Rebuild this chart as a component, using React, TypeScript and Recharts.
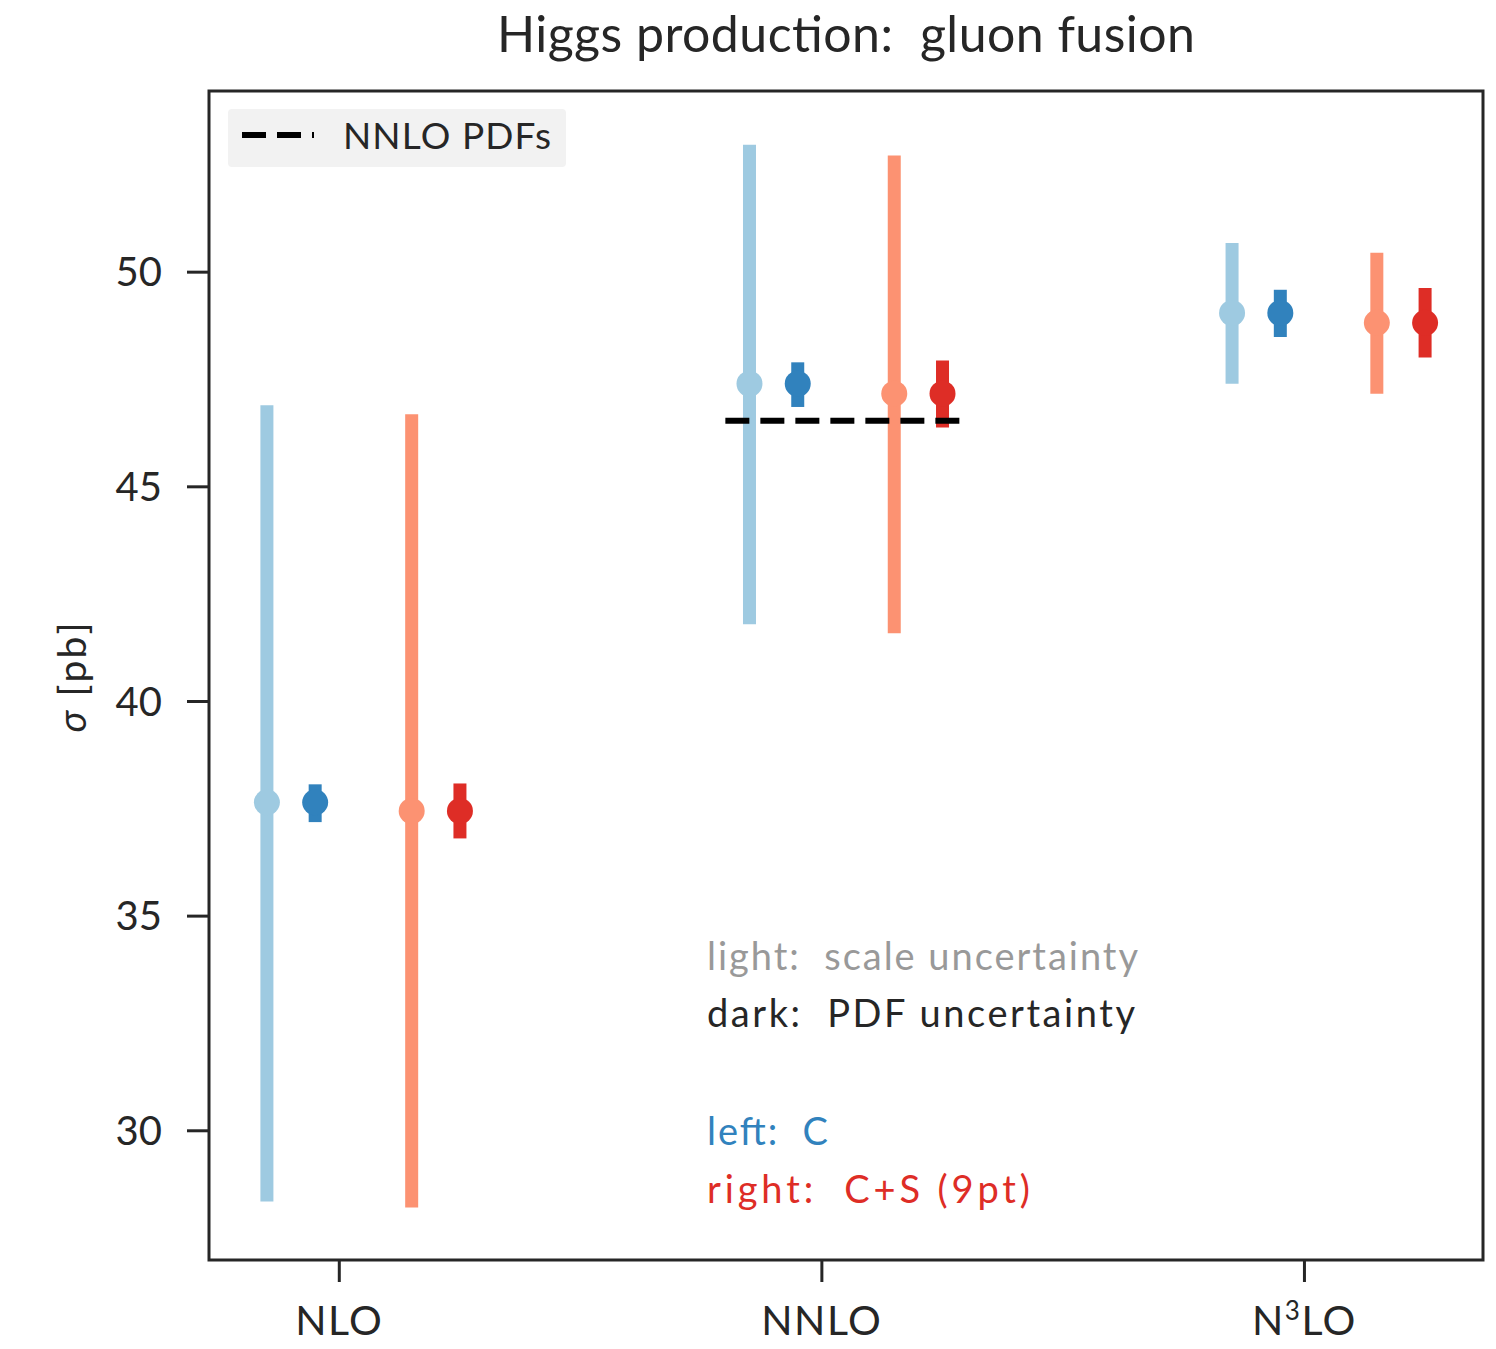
import React from 'react';
import { ComposedChart, Scatter, ErrorBar, XAxis, YAxis, ReferenceLine, ReferenceArea } from 'recharts';

// categories
const orders = ['NLO', 'NNLO', 'N³LO'];
const orderIndex = [0, 1, 2];
const yTicks = [30, 35, 40, 45, 50];

// central values [pb]
const centralC = [37.65, 47.4, 49.05];
const centralCS = [37.45, 47.17, 48.82];

// scale uncertainty (light)
const scaleLowC = [28.35, 41.8, 47.4];
const scaleHighC = [46.9, 52.97, 50.68];
const scaleLowCS = [28.21, 41.59, 47.17];
const scaleHighCS = [46.69, 52.72, 50.45];

// PDF uncertainty (dark)
const pdfLowC = [37.19, 46.86, 48.49];
const pdfHighC = [38.07, 47.9, 49.59];
const pdfLowCS = [36.81, 46.38, 48.01];
const pdfHighCS = [38.09, 47.94, 49.63];

// NNLO PDFs reference value
const nnloPdfValue = 46.54;

const W = 1496;
const H = 1349;
const FONT = 'Lato, "DejaVu Sans", sans-serif';
const INK = '#262626';
const NB = '\u00a0';

const xDomain = [-0.27, 2.37];
const yDomain = [26.99, 54.22];

const makeRows = (offset: number, central: number[], low: number[], high: number[]) =>
  orderIndex.map((o, i) => ({
    x: o + offset,
    y: central[i],
    err: [central[i] - low[i], high[i] - central[i]],
  }));

const series = [
  { key: 'scaleC', rows: makeRows(-0.15, centralC, scaleLowC, scaleHighC), color: '#9ecae1' },
  { key: 'pdfC', rows: makeRows(-0.05, centralC, pdfLowC, pdfHighC), color: '#3182bd' },
  { key: 'scaleCS', rows: makeRows(0.15, centralCS, scaleLowCS, scaleHighCS), color: '#fc9272' },
  { key: 'pdfCS', rows: makeRows(0.25, centralCS, pdfLowCS, pdfHighCS), color: '#de2d26' },
];

const OrderTick = (props: any) => {
  const { x, y, payload } = props;
  const label = orders[payload.value] ?? '';
  const parts = label.split('³');
  return (
    <text x={x} y={y} dy="0.74em" textAnchor="middle" fill={INK} fontSize={41} fontFamily={FONT} letterSpacing={1.5}>
      {parts.length > 1 ? (
        <>
          {parts[0]}
          <tspan dy={-15} fontSize={26}>3</tspan>
          <tspan dy={15}>{parts[1]}</tspan>
        </>
      ) : (
        label
      )}
    </text>
  );
};

const YLabel = (props: any) => {
  const vb = props.viewBox || { x: 0, y: 0, width: 0, height: 0 };
  const cx = vb.x + 71;
  const cy = vb.y + vb.height / 2 + 2;
  return (
    <text
      x={cx}
      y={cy}
      transform={`rotate(-90 ${cx} ${cy})`}
      textAnchor="middle"
      dominantBaseline="central"
      fill={INK}
      fontSize={39}
      fontFamily={FONT}
      textLength={110}
      lengthAdjust="spacing"
    >
      <tspan fontStyle="italic">σ</tspan>{NB}[pb]
    </text>
  );
};

export default function App() {
  return (
    <div style={{ position: 'absolute', left: 0, top: 0, width: W, height: H, background: '#fff' }}>
      <ComposedChart width={W} height={H} margin={{ top: 91, right: 13, bottom: 0, left: 0 }}>
        <XAxis
          dataKey="x"
          type="number"
          domain={xDomain}
          allowDataOverflow
          ticks={orderIndex}
          tick={<OrderTick />}
          tickSize={22}
          tickMargin={23}
          tickLine={{ stroke: INK, strokeWidth: 3 }}
          axisLine={false}
          height={89}
        />
        <YAxis
          dataKey="y"
          type="number"
          domain={yDomain}
          allowDataOverflow
          ticks={yTicks}
          tick={{ fill: INK, fontSize: 40, fontFamily: FONT }}
          tickSize={22}
          tickMargin={25}
          tickLine={{ stroke: INK, strokeWidth: 3 }}
          axisLine={false}
          width={209}
          label={{ content: (p: any) => <YLabel {...p} /> }}
        />
        <ReferenceArea
          x1={xDomain[0]}
          x2={xDomain[1]}
          y1={yDomain[0]}
          y2={yDomain[1]}
          fill="none"
          fillOpacity={0}
          stroke={INK}
          strokeWidth={3}
          ifOverflow="visible"
        />
        {series.map((s) => (
          <Scatter
            key={s.key}
            data={s.rows}
            dataKey="y"
            isAnimationActive={false}
            shape={(p: any) => <circle cx={p.cx} cy={p.cy} r={13} fill={s.color} />}
          >
            <ErrorBar dataKey="err" direction="y" width={0} stroke={s.color} strokeWidth={13} isAnimationActive={false} />
          </Scatter>
        ))}
        <ReferenceLine
          segment={[
            { x: orderIndex[1] - 0.2, y: nnloPdfValue },
            { x: orderIndex[1] + 0.3, y: nnloPdfValue },
          ]}
          stroke="#000"
          strokeWidth={6}
          strokeDasharray="24 11"
          ifOverflow="visible"
        />
      </ComposedChart>

      <svg
        width={W}
        height={H}
        style={{ position: 'absolute', left: 0, top: 0, pointerEvents: 'none' }}
        fontFamily={FONT}
      >
        <text x={497} y={52} fontSize={50} fill={INK} textLength={698} lengthAdjust="spacing">
          {`Higgs production:${NB}${NB}gluon fusion`}
        </text>

        <rect x={228} y={109} width={338} height={58} rx={4} fill="#f2f2f2" />
        <line x1={242} y1={135} x2={314} y2={135} stroke="#000" strokeWidth={6} strokeDasharray="24 11" />
        <text x={343} y={149} fontSize={37} fill={INK} textLength={208} lengthAdjust="spacing">
          NNLO PDFs
        </text>

        <g fontSize={38}>
          <text x={707} y={970} fill="#999999" textLength={431} lengthAdjust="spacing">
            {`light:${NB}${NB}scale uncertainty`}
          </text>
          <text x={707} y={1027} fill={INK} textLength={428} lengthAdjust="spacing">
            {`dark:${NB}${NB}PDF uncertainty`}
          </text>
          <text x={707} y={1145} fill="#3182bd" textLength={121} lengthAdjust="spacing">
            {`left:${NB}${NB}C`}
          </text>
          <text x={707} y={1203} fill="#de2d26" textLength={323} lengthAdjust="spacing">
            {`right:${NB}${NB}C+S (9pt)`}
          </text>
        </g>
      </svg>
    </div>
  );
}
